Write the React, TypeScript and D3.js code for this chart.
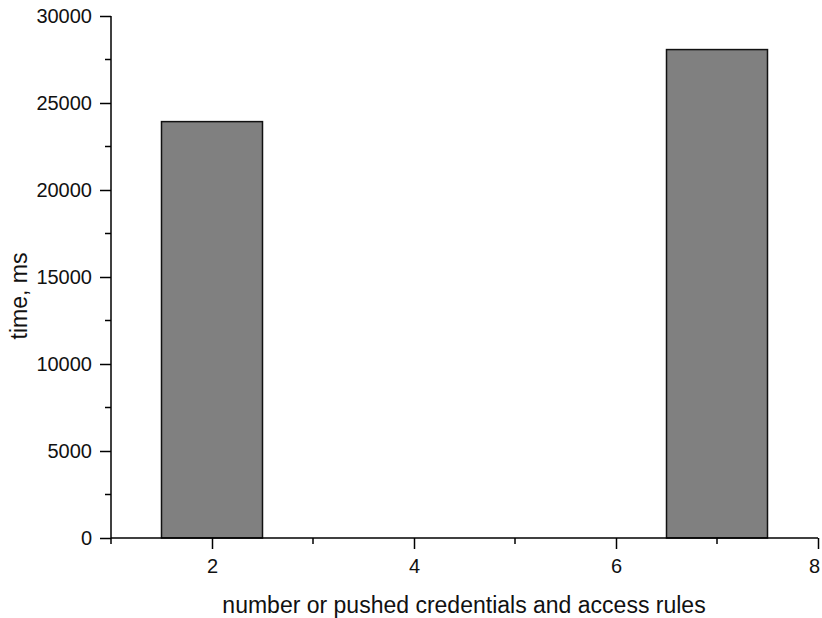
import React, { useRef, useEffect } from "react";
import * as d3 from "d3";

/* bar positions (x) and heights (ms) */
const categories = [2, 7];
const times = [23930, 28070];
const xTicks = [2, 4, 6, 8];
const yTicks = [0, 5000, 10000, 15000, 20000, 25000, 30000];

export default function App() {
  const svgRef = useRef<SVGSVGElement>(null);

  useEffect(() => {
    const W = 822;
    const H = 618;
    const M = { top: 16, right: 4, bottom: 80, left: 111 };

    const x = d3.scaleLinear().domain([1, 8]).range([M.left, W - M.right]);
    const y = d3.scaleLinear().domain([0, 30000]).range([H - M.bottom, M.top]);

    const svg = d3.select(svgRef.current!);
    svg.selectAll("*").remove();
    svg.attr("width", W).attr("height", H).style("font-family", "'Liberation Sans', Arial, sans-serif");

    svg.append("rect").attr("width", W).attr("height", H).attr("fill", "#fff");

    /* ---- bars ---- */
    svg
      .append("g")
      .selectAll("rect")
      .data(categories)
      .enter()
      .append("rect")
      .attr("x", (d) => x(d - 0.5))
      .attr("width", (d) => x(d + 0.5) - x(d - 0.5))
      .attr("y", (_, i) => y(times[i]))
      .attr("height", (_, i) => y(0) - y(times[i]))
      .attr("fill", "#808080")
      .attr("stroke", "#111")
      .attr("stroke-width", 1.5);

    /* ---- x axis ---- */
    const xAxis = d3
      .axisBottom(x)
      .tickValues(xTicks)
      .tickSize(11)
      .tickPadding(10)
      .tickFormat(d3.format("d"));
    const gx = svg.append("g").attr("transform", `translate(0,${y(0)})`).call(xAxis);
    gx.select(".domain").attr("stroke-width", 1.5).attr("d", `M${x(1)},0H${x(8)}`);
    gx.selectAll(".tick line").attr("stroke-width", 1.5);
    gx.selectAll(".tick text").style("font-size", "20px").attr("fill", "#111");
    // last label sits on the page edge: pull it in a touch
    gx.selectAll<SVGTextElement, number>(".tick text")
      .filter((d) => d === 8)
      .attr("dx", -4);
    gx.selectAll(".minor")
      .data([1, 3, 5, 7])
      .enter()
      .append("line")
      .attr("x1", (d) => x(d))
      .attr("x2", (d) => x(d))
      .attr("y1", 0)
      .attr("y2", 6)
      .attr("stroke", "#000")
      .attr("stroke-width", 1.5);

    /* ---- y axis ---- */
    const yAxis = d3.axisLeft(y).tickValues(yTicks).tickSize(11).tickPadding(8).tickFormat(d3.format("d"));
    const gy = svg.append("g").attr("transform", `translate(${x(1)},0)`).call(yAxis);
    gy.select(".domain").attr("stroke-width", 1.5).attr("d", `M0,${y(0)}V${y(30000)}`);
    gy.selectAll(".tick line").attr("stroke-width", 1.5);
    gy.selectAll(".tick text").style("font-size", "20px").attr("fill", "#111");
    gy.selectAll(".minor")
      .data([2500, 7500, 12500, 17500, 22500, 27500])
      .enter()
      .append("line")
      .attr("x1", 0)
      .attr("x2", -6)
      .attr("y1", (d) => y(d))
      .attr("y2", (d) => y(d))
      .attr("stroke", "#000")
      .attr("stroke-width", 1.5);

    /* ---- axis titles ---- */
    svg
      .append("text")
      .attr("x", 464)
      .attr("y", 613)
      .attr("text-anchor", "middle")
      .attr("fill", "#111")
      .style("font-size", "23px")
      .text("number or pushed credentials and access rules");

    svg
      .append("text")
      .attr("transform", `translate(27,296) rotate(-90)`)
      .attr("text-anchor", "middle")
      .attr("fill", "#111")
      .style("font-size", "23px")
      .text("time, ms");
  }, []);

  return (
    <div style={{ position: "fixed", left: 0, top: 0 }}>
      <svg ref={svgRef} />
    </div>
  );
}
